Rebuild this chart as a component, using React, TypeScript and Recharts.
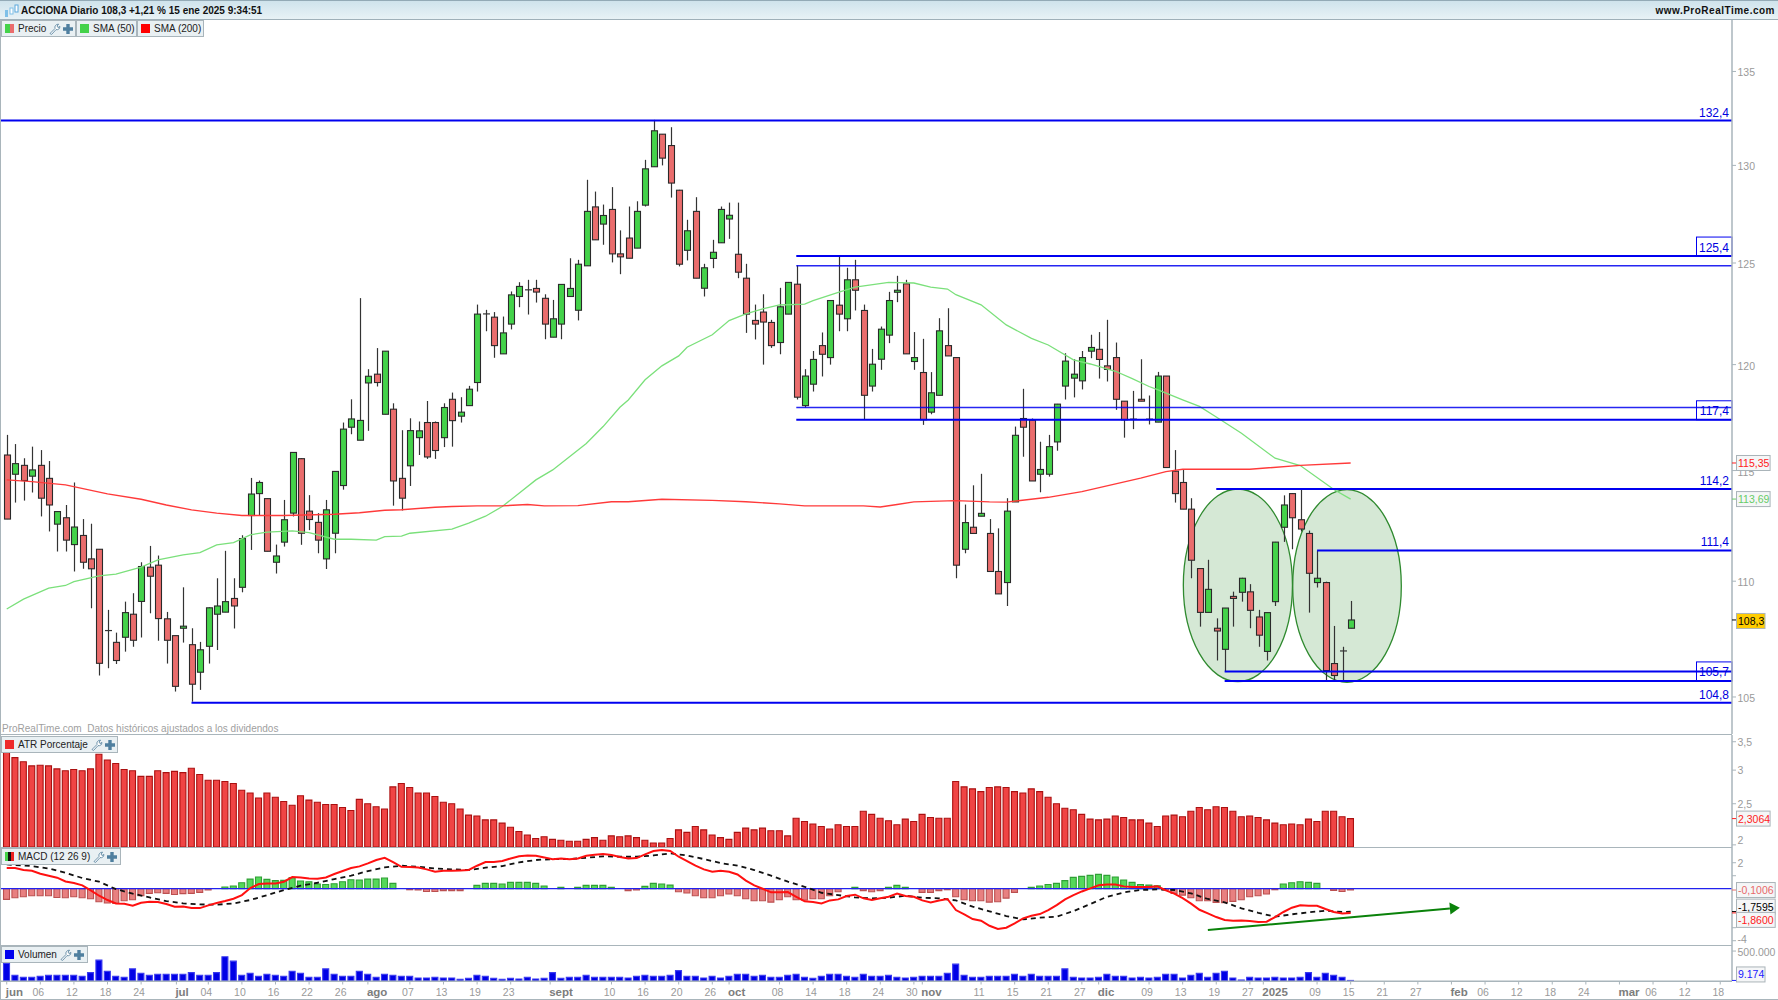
import React from "react";
import { ComposedChart, Bar, Line, XAxis, YAxis, ReferenceLine, ReferenceArea, Cell } from "recharts";

// ---------- price candles ----------
const highs = [116.66,116.23,115.57,116.11,115.95,115.44,113.14,113.42,114.45,112.78,
112.57,111.42,108.74,107.75,109.10,109.47,110.84,111.57,111.14,108.65,
107.62,109.73,107.94,107.35,108.85,110.13,111.35,110.13,112.05,114.66,
114.54,113.72,111.63,113.65,115.84,115.57,113.87,113.05,113.65,114.96,
117.24,118.34,123.25,119.78,120.8,120.65,118.15,116.88,117.44,117.29,
118.26,117.29,118.15,118.66,118.44,118.98,122.93,122.67,122.56,122.34,
123.58,124.04,124.16,124.16,123.44,123.16,123.94,125.24,125.16,129.25,
128.64,127.97,128.87,126.65,127.87,128.14,130.29,132.4,131.64,132.01,
128.73,127.19,128.35,124.96,126.17,127.87,128.07,128.07,124.96,122.93,
123.44,122.18,123.76,124.03,124.88,119.78,120.66,121.56,123.13,125.33,
124.76,125.16,122.93,120.76,121.85,123.56,124.36,124.16,121.58,121.25,
119.64,122.26,122.75,120.36,113.44,114.32,114.85,112.78,112.36,113.73,
117.05,118.84,117.43,116.34,116.66,118.12,120.55,120.26,120.66,121.45,
121.58,122.18,121.07,118.25,118.74,120.26,118.52,119.65,119.45,115.95,
115.03,113.73,110.56,110.95,108.37,108.82,109.54,110.15,109.87,108.74,
108.62,111.75,113.86,113.96,114.14,112.26,111.36,109.98,108.04,107.14,109.13];
const lows = [112.78,113.53,113.62,113.99,112.90,112.22,111.32,111.32,110.43,110.55,
108.81,105.91,106.22,106.40,106.93,107.14,107.54,108.59,107.40,106.42,
105.23,107.32,104.8,105.30,106.42,107.00,108.64,107.93,109.51,111.39,
112.93,111.33,110.34,111.54,112.90,111.62,112.28,111.24,110.54,111.24,
114.12,116.69,116.41,116.85,118.95,117.63,113.39,113.17,114.29,115.72,
115.54,115.54,116.09,116.11,117.24,118.04,118.71,121.62,120.33,120.52,
121.71,122.80,122.44,123.03,121.23,121.33,121.23,123.33,122.15,124.86,
126.17,125.92,125.03,124.44,125.24,125.75,127.87,129.93,130.0,128.33,
124.83,125.13,124.24,123.33,124.74,126.02,126.22,124.24,121.54,121.22,
120.0,120.81,120.5,122.46,118.33,117.95,118.71,119.43,120.0,121.62,
121.62,122.64,117.36,118.71,119.75,121.04,123.05,120.52,119.75,117.13,
117.63,118.53,120.42,110.13,111.24,112.13,112.91,110.43,109.44,108.91,
113.56,115.64,114.52,114.0,114.72,115.92,118.33,118.43,118.81,120.31,
119.33,119.19,117.84,116.53,116.93,118.25,117.15,117.26,115.14,113.53,
113.23,110.13,108.01,108.63,106.55,106.08,108.01,109.1,107.94,107.14,
106.55,108.91,111.75,111.42,112.22,108.62,109.72,105.68,105.68,105.68,107.94];
const opens = [115.72,114.83,115.24,114.74,115.24,114.64,112.55,112.84,111.63,112.04,
110.99,111.42,107.84,107.33,107.55,108.55,109.11,110.62,110.71,108.35,
107.62,107.94,107.23,106.05,107.16,108.55,108.64,109.24,109.73,112.94,
113.94,113.71,110.84,111.74,113.05,115.55,113.14,112.63,110.99,112.14,
114.31,117.02,116.41,119.12,119.54,117.63,117.87,114.64,115.22,116.53,
117.24,117.24,116.53,118.34,117.54,118.04,119.14,122.47,122.31,120.52,
121.97,123.33,123.66,123.73,123.24,121.33,121.97,123.33,122.65,124.86,
127.85,126.97,127.72,125.46,126.26,125.75,127.94,129.93,131.64,131.04,
128.71,125.64,127.62,123.74,125.23,126.02,127.23,125.44,124.24,122.15,
122.56,122.05,121.07,122.46,123.94,118.04,119.06,120.92,120.34,122.9,
122.23,124.16,122.64,118.97,120.26,121.43,123.54,123.96,120.15,119.62,
117.73,118.53,120.92,120.34,111.42,112.41,112.91,112.13,110.43,109.94,
113.56,117.43,117.35,114.83,114.83,116.33,118.97,119.35,119.22,120.65,
120.74,119.94,120.34,118.25,117.4,118.34,117.4,117.26,119.45,114.97,
114.45,113.23,110.56,108.63,107.94,107.03,109.33,109.51,109.53,108.43,
106.94,109.1,112.41,113.94,112.75,112.13,109.94,109.94,106.42,106.96,107.94];
const closes = [112.78,115.32,114.54,115.03,113.73,113.42,113.12,111.83,112.42,110.84,
110.55,106.43,107.81,106.55,108.62,107.42,110.65,110.22,108.36,107.42,
105.45,108.03,105.54,107.01,108.83,108.91,109.10,108.91,111.90,113.92,
114.45,111.33,111.12,112.75,115.84,112.14,112.76,111.83,113.20,114.96,
116.93,117.41,117.34,119.44,119.14,120.65,114.52,113.73,116.86,116.85,
115.63,115.93,117.95,117.33,117.73,118.82,122.46,122.44,120.92,121.54,
123.41,123.83,123.63,123.55,121.97,122.23,123.93,123.73,124.94,127.62,
126.17,127.41,125.46,125.31,125.24,127.62,129.82,131.82,130.38,129.08,
124.94,126.63,124.24,124.76,125.54,127.72,127.42,124.54,122.46,121.97,
122.07,120.92,122.82,124.03,118.44,119.45,120.25,120.5,123.13,122.46,
124.16,123.64,118.53,120.02,121.72,123.13,123.64,120.52,120.34,117.37,
118.65,121.64,120.42,110.71,112.62,112.13,113.04,110.43,109.44,113.14,
116.64,117.02,114.52,115.05,116.11,118.11,120.17,119.54,120.34,120.83,
120.25,119.77,118.34,117.37,117.35,118.25,117.35,119.45,115.14,113.94,
113.23,110.93,108.63,109.64,107.82,108.82,109.24,110.13,108.72,107.64,
108.62,111.74,113.42,112.84,112.33,110.35,110.13,106.12,105.91,106.94,108.3];

// ---------- moving averages (sampled where read) ----------
const sma50Bars = [0,2,5,7,8,11,13,16,18,21,23,25,27,29,31,34,36,39,41,44,45,47,48,53,55,57,59,61,63,65,67,69,71,73,74,76,78,80,81,84,86,88,90,92,95,96,99,101,105,108,110,112,113,116,119,122,124,127,129,132,134,136,137,140,142,144,147,151,154,158,160];
const sma50Vals = [108.78,109.21,109.69,109.81,109.98,110.24,110.31,110.62,110.95,111.17,111.27,111.62,111.72,112.07,112.19,112.25,112.17,111.87,111.87,111.83,111.99,112.01,112.14,112.33,112.6,112.91,113.35,113.96,114.57,115.03,115.64,116.26,117.05,117.96,118.31,119.27,119.94,120.42,120.84,121.45,122.14,122.47,122.72,122.91,122.95,123.13,123.53,123.8,124.03,124.0,123.8,123.7,123.42,122.92,121.93,121.27,120.95,120.23,120.03,119.68,119.33,118.95,118.8,118.31,118.0,117.5,116.74,115.57,115.23,114.13,113.69];
const sma200Bars = [0,3,7,12,16,19,22,25,28,33,39,42,45,47,51,53,56,59,62,64,68,72,74,78,84,88,92,95,102,104,106,108,113,117,119,124,128,135,138,140,148,154,160];
const sma200Vals = [114.57,114.49,114.34,113.93,113.68,113.42,113.2,113.05,112.94,112.94,113.0,113.07,113.18,113.2,113.32,113.35,113.38,113.38,113.44,113.38,113.39,113.57,113.57,113.68,113.63,113.57,113.47,113.38,113.38,113.33,113.44,113.56,113.62,113.56,113.55,113.77,114.03,114.65,114.95,115.06,115.06,115.24,115.35];

// ---------- drawn levels ----------
const levelPrices = [132.36,125.35,124.86,117.95,117.37,114.15,111.37,106.08,105.68,104.76];
const levelStartBars = [-0.8,94,94,94,94,144,156,145,145,22];
const levelLabels = ["132,4","125,4","","","117,4","114,2","111,4","","105,7","104,8"];
const levelBoxedTo = [null,"box",null,null,"box",null,null,null,"box",null];
const levelWidths = [2,2,1.4,1.4,2,2,2,2,2,2];
const ellipseBars = [[140.08,153.07],[153.1,166.03]];
const ellipsePrices = [[114.15,105.65],[114.12,105.62]];

// ---------- ATR ----------
const atr = [3.30,3.21,3.14,3.07,3.08,3.07,3.02,2.99,3.01,2.99,3.02,3.27,3.17,3.11,3.01,2.99,2.90,2.90,2.99,2.96,2.98,2.96,3.03,2.93,2.84,2.84,2.82,2.79,2.69,2.65,2.58,2.65,2.59,2.53,2.48,2.61,2.55,2.52,2.49,2.49,2.45,2.41,2.56,2.50,2.46,2.43,2.74,2.79,2.73,2.65,2.65,2.60,2.52,2.50,2.43,2.35,2.34,2.29,2.29,2.25,2.20,2.15,2.11,2.07,2.09,2.06,2.05,2.04,2.04,2.06,2.08,2.05,2.10,2.09,2.10,2.08,2.05,2.02,2.02,2.07,2.17,2.14,2.21,2.17,2.11,2.08,2.06,2.14,2.19,2.17,2.19,2.16,2.16,2.10,2.31,2.27,2.24,2.21,2.18,2.23,2.21,2.21,2.40,2.36,2.31,2.28,2.23,2.30,2.27,2.36,2.32,2.31,2.31,2.82,2.74,2.71,2.67,2.73,2.74,2.73,2.67,2.65,2.71,2.67,2.59,2.50,2.44,2.42,2.36,2.30,2.29,2.30,2.34,2.32,2.29,2.29,2.25,2.21,2.34,2.35,2.33,2.40,2.45,2.42,2.46,2.45,2.40,2.33,2.34,2.32,2.29,2.25,2.23,2.24,2.23,2.30,2.27,2.40,2.40,2.33,2.3064];

// ---------- MACD ----------
const macdHist = [-.82,-.69,-.62,-.54,-.54,-.54,-.67,-.69,-.62,-.69,-.77,-1.0,-1.10,-1.13,-.92,-.85,-.54,-.36,-.31,-.36,-.44,-.38,-.36,-.28,-.10,0,.13,.21,.46,.74,.90,.72,.62,.64,.85,.59,.54,.36,.33,.38,.54,.69,.67,.74,.74,.82,.41,0,-.08,-.10,-.21,-.21,-.15,-.15,-.15,0,.26,.41,.41,.36,.49,.49,.49,.41,.21,0,.10,0,.10,.26,.26,.26,.10,0,-.15,-.10,.18,.41,.36,.28,-.23,-.33,-.54,-.69,-.69,-.54,-.41,-.54,-.77,-.92,-.92,-1.03,-.85,-.62,-.85,-.87,-.77,-.77,-.54,-.23,0,.10,-.15,-.23,-.15,.10,.26,.10,0,-.28,-.28,-.15,-.08,-.62,-.85,-.92,-.92,-1.03,-1.0,-.72,-.28,0,.10,.21,.33,.41,.62,.87,.95,1.03,1.10,1.03,.90,.67,.49,.33,.28,.23,-.10,-.36,-.49,-.69,-.92,-.92,-1.05,-1.08,-.97,-.85,-.62,-.54,-.41,-.08,.36,.46,.54,.49,.41,0,-.13,-.21,-.1006];
const macdLine = [1.59,1.59,1.44,1.38,1.15,1.0,.85,.56,.44,.26,-.13,-.54,-.87,-1.13,-1.15,-1.31,-1.08,-1.0,-1.03,-1.18,-1.38,-1.36,-1.49,-1.49,-1.28,-1.10,-.95,-.77,-.49,.05,.36,.41,.41,.54,.90,.87,.79,.77,.87,1.13,1.36,1.59,1.72,1.95,2.21,2.38,2.05,1.69,1.67,1.64,1.49,1.31,1.38,1.38,1.41,1.44,1.77,2.05,2.05,2.13,2.33,2.49,2.56,2.54,2.41,2.26,2.33,2.26,2.33,2.54,2.62,2.67,2.59,2.44,2.33,2.36,2.64,2.90,2.97,2.90,2.46,2.13,1.77,1.49,1.31,1.38,1.31,1.10,.62,.26,0,-.28,-.28,-.26,-.62,-.97,-1.03,-1.13,-.90,-.82,-.56,-.46,-.74,-.87,-.74,-.62,-.38,-.56,-.62,-.90,-1.05,-.90,-.79,-1.64,-1.97,-2.33,-2.46,-2.85,-3.10,-3.0,-2.67,-2.28,-2.08,-1.95,-1.64,-1.26,-.82,-.49,-.21,.03,.26,.33,.33,.18,.13,.13,.13,.18,-.13,-.38,-.72,-1.15,-1.62,-1.90,-2.18,-2.41,-2.46,-2.44,-2.49,-2.56,-2.54,-2.18,-1.79,-1.46,-1.28,-1.31,-1.31,-1.56,-1.79,-1.90,-1.86];
const signalBars = [0,3,5,7,9,11,13,15,17,19,21,23,25,27,29,31,33,35,37,39,41,43,45,47,49,51,53,55,57,59,61,63,65,67,69,71,73,75,77,79,81,83,85,87,89,91,93,95,97,99,101,103,105,107,109,111,113,115,117,119,121,123,125,127,129,131,133,135,137,139,141,143,145,147,149,151,153,155,157,159,160];
const signalVals = [1.87,1.74,1.56,1.23,.82,.54,-.03,-.38,-.67,-.95,-1.13,-1.21,-1.23,-1.13,-.87,-.49,-.10,.23,.46,.74,1.0,1.36,1.64,1.77,1.69,1.56,1.49,1.44,1.62,1.74,2.03,2.21,2.28,2.28,2.38,2.49,2.46,2.46,2.56,2.72,2.56,2.28,1.97,1.77,1.44,1.0,.54,.15,-.31,-.49,-.67,-.74,-.69,-.54,-.69,-.74,-.90,-1.38,-1.74,-2.10,-2.36,-2.23,-2.15,-1.72,-1.18,-.62,-.28,-.10,-.05,-.10,-.36,-.79,-1.05,-1.51,-1.85,-2.15,-1.97,-1.82,-1.69,-1.79,-1.7595];
const arrowBars = [143,173];
const arrowVals = [-3.18,-1.46];

// ---------- volume (thousands except the last bar) ----------
const volume = [292,95,62,62,79,95,95,95,95,79,140,348,163,79,62,202,129,95,112,112,112,112,140,95,95,140,404,331,95,129,79,112,95,79,163,129,62,62,202,112,79,79,163,112,62,112,95,79,79,50,50,62,50,50,28,45,95,79,45,28,45,34,62,34,45,140,45,62,62,95,62,62,62,62,50,79,95,79,79,95,174,79,79,50,79,50,79,112,112,79,95,62,62,95,112,62,45,79,112,112,79,62,112,79,79,95,62,50,62,79,79,79,129,281,95,62,62,79,79,79,112,79,112,79,79,79,202,62,50,50,62,112,79,79,50,62,50,62,112,112,50,95,129,62,129,163,50,17,62,50,50,62,50,50,62,140,62,129,95,62,9.174];

// ---------- tick labels ----------
const xTickBars = [0,4,8,12,16,20.2,24,28,32,36,40,43,48,52,56,60,64.7,72,76,80,84,86,92,96,100,104,108,109,116,120,124,128,130,136,140,144,148,149.6,156,160,164,168,172,176,180,184,188,192,196,200,204];
const xTickNames = ["jun","06","12","18","24","jul","04","10","16","22","26","ago","07","13","19","23","sept","10","16","20","26","oct","08","14","18","24","30","nov","11","15","21","27","dic","09","13","19","27","2025","09","15","21","27","feb","06","12","18","24","mar","06","12","18"];
const boldTicks = ["jun","jul","ago","sept","oct","nov","dic","2025","feb","mar"];
const priceTicks = [135,130,125,120,115,110,105];
const priceTagVals = [115.35,113.69,108.3];
const priceTagTexts = ["115,35","113,69","108,3"];
const atrTicks = [3.5,3,2.5,2];
const macdTicks = [2,1,-3,-4];
const macdTagVals = [-0.1006,-1.7595,-1.86];
const macdTagTexts = ["-0,1006","-1,7595","-1,8600"];

const WIDTH = 1778;
const PLOT_W = 1732;
const X_DOMAIN: [number, number] = [-0.8, 205.4];
const FONT = "'Liberation Sans', Arial, sans-serif";
const AXIS_GRAY = "#a9b5bb";
const TICK_TEXT = "#9a9a9a";

const priceRows = highs.map((h, i) => ({
  i, range: [lows[i], h], open: opens[i], close: closes[i], high: h, low: lows[i],
  sma50: sma50Bars.includes(i) ? sma50Vals[sma50Bars.indexOf(i)] : null,
  sma200: sma200Bars.includes(i) ? sma200Vals[sma200Bars.indexOf(i)] : null,
}));
const atrRows = atr.map((v, i) => ({ i, atr: v }));
const macdRows = macdHist.map((h, i) => ({
  i, hist: h, macd: macdLine[i],
  signal: signalBars.includes(i) ? signalVals[signalBars.indexOf(i)] : null,
}));
const volRows = volume.map((v, i) => ({ i, vol: i === 160 ? 9174 : v * 1000 }));

function Candle(props: any) {
  const { x, y, width, height, payload } = props;
  const top = Math.min(y, y + height);
  const h = Math.abs(height);
  const span = Math.log(payload.high / payload.low) || 1;
  const py = (v: number) => top + (h * Math.log(payload.high / v)) / span;
  const cx = Math.round(x + width / 2);
  const t = py(Math.max(payload.open, payload.close));
  const b = py(Math.min(payload.open, payload.close));
  const up = payload.close >= payload.open;
  const doji = Math.abs(t - b) < 1.2;
  return (
    <g>
      <line x1={cx + 0.5} x2={cx + 0.5} y1={top} y2={top + h} stroke="#333" strokeWidth={1.2} />
      {doji ? (
        <line x1={cx - 3} x2={cx + 4} y1={t} y2={t} stroke="#333" strokeWidth={1.2} />
      ) : (
        <rect x={cx - 2.5} y={t} width={6} height={b - t} fill={up ? "#44d24a" : "#ea6d6d"} stroke="#2a2a2a" strokeWidth={1.1} />
      )}
    </g>
  );
}

function LevelShape(props: any) {
  const { x1, y1, label, boxed, lw } = props;
  return (
    <g>
      <line x1={x1} x2={PLOT_W} y1={y1} y2={y1} stroke="#0000f0" strokeWidth={lw} strokeOpacity={lw < 2 ? 0.85 : 1} />
      {boxed ? <rect x={1696.5} y={y1 - 19} width={35.5} height={19} fill="none" stroke="#0000f0" strokeWidth={1} /> : null}
      {label ? (
        <text x={1729} y={boxed ? y1 - 4.5 : y1 - 4} textAnchor="end" fontSize={12} fontFamily={FONT} fill="#0000e0">{label}</text>
      ) : null}
    </g>
  );
}

function EllipseShape(props: any) {
  const { x, y, width, height } = props;
  return (
    <ellipse cx={x + width / 2} cy={y + height / 2} rx={width / 2} ry={Math.abs(height) / 2}
      fill="#2e8b2e" fillOpacity={0.2} stroke="#2f8a2f" strokeWidth={1.3} />
  );
}

function ArrowShape(props: any) {
  const { x1, x2, y1, y2 } = props;
  const a = Math.atan2(y2 - y1, x2 - x1);
  const L = 10, W = 6;
  const bx = x2 - L * Math.cos(a), by = y2 - L * Math.sin(a);
  const nx = -Math.sin(a), ny = Math.cos(a);
  return (
    <g>
      <line x1={x1} y1={y1} x2={bx} y2={by} stroke="#0a820a" strokeWidth={2} />
      <polygon points={`${x2},${y2} ${bx + nx * W},${by + ny * W} ${bx - nx * W},${by - ny * W}`} fill="#0a820a" />
    </g>
  );
}

function makeTick(
  tagVals: number[], tagTexts: string[], tagColors: string[], tagBg: string[], tagDy: number[],
  labelFn: (v: number) => string, dyFn: (v: number) => number,
) {
  return function Tick(props: any) {
    const { y, payload } = props;
    const v = payload.value;
    const k = tagVals.indexOf(v);
    if (k >= 0) {
      const w = tagTexts[k].length * 5.1 + 3;
      const cy = y + tagDy[k];
      return (
        <g>
          <line x1={PLOT_W} x2={PLOT_W + 5} y1={y} y2={y} stroke={tagColors[k]} />
          <rect x={PLOT_W + 4.5} y={cy - 7.5} width={w} height={15} fill={tagBg[k]} stroke="#aab4b9" />
          <text x={PLOT_W + 6} y={cy + 4} fontSize={10.5} fontFamily={FONT} fill={tagColors[k]}>{tagTexts[k]}</text>
        </g>
      );
    }
    const s = labelFn(v);
    return (
      <g>
        <line x1={PLOT_W} x2={PLOT_W + 4} y1={y} y2={y} stroke={AXIS_GRAY} />
        {s ? <text x={PLOT_W + 5.5} y={y + 4 + dyFn(v)} fontSize={10.5} fontFamily={FONT} fill={TICK_TEXT}>{s}</text> : null}
      </g>
    );
  };
}

const commaLabel = (v: number) => String(v).replace(".", ",");
const PriceTick = makeTick(priceTagVals, priceTagTexts, ["#ff2020", "#66cc66", "#000"], ["#f5f6f7", "#f5f6f7", "#ffcc00"], [0, 0, 1], commaLabel, () => 1);
const AtrTick = makeTick([2.3064], ["2,3064"], ["#ff2020"], ["#f5f6f7"], [0], commaLabel, (v) => (v === 2 ? -5 : 0));
const MacdTick = makeTick(macdTagVals, macdTagTexts, ["#e86a6a", "#000", "#ff2020"], ["#f5f6f7", "#f5f6f7", "#f5f6f7"], [0, -5, 7],
  (v) => (v === 2 || v === -4 ? commaLabel(v) : ""), (v) => (v === -4 ? -2 : 0));
const VolTick = makeTick([9174], ["9.174"], ["#2020ff"], ["#f5f6f7"], [-6], () => "500.000", () => 1);

function XTick(props: any) {
  const { x, payload } = props;
  const v = payload.value;
  const name = xTickNames[xTickBars.indexOf(v)];
  const bold = boldTicks.includes(name);
  return (
    <g>
      <line x1={x} x2={x} y1={36.5} y2={39.5} stroke={AXIS_GRAY} />
      <text x={bold ? x - 1 : x - 2} y={51} textAnchor={bold ? "start" : "middle"} fontSize={bold ? 11.5 : 10.5}
        fontWeight={bold ? 700 : 400} fontFamily={FONT} fill={bold ? "#7d7d7d" : TICK_TEXT}>{name}</text>
    </g>
  );
}

function Wrench() {
  return (
    <svg width="12" height="12" viewBox="0 0 12 12" style={{ marginLeft: 3, flex: "none" }}>
      <path d="M1 10.5 L6 5.5 C5.3 3.2 7 1 9.6 1.2 L8 3 L9 4.6 L10.9 3.4 C11 5.8 9 7.2 7 6.6 L2.6 11.4 Z" fill="#fff" stroke="#5f88a3" strokeWidth="0.9" />
    </svg>
  );
}
function Plus() {
  return (
    <svg width="10" height="10" viewBox="0 0 10 10" style={{ marginLeft: 2, flex: "none" }}>
      <path d="M3.3 0 H6.7 V3.3 H10 V6.7 H6.7 V10 H3.3 V6.7 H0 V3.3 H3.3 Z" fill="#4f7f9f" />
    </svg>
  );
}

function LegendBox(props: { x: number; y: number; w: number; h?: number; swatch: React.ReactNode; text: string; tools?: boolean }) {
  const { x, y, w, h = 17, swatch, text, tools } = props;
  return (
    <div style={{ position: "absolute", left: x, top: y, width: w, height: h, boxSizing: "border-box", background: "#e9f0f3", border: `1px solid ${AXIS_GRAY}`, display: "flex", alignItems: "center", paddingLeft: 3, fontFamily: FONT, fontSize: 10, color: "#222", whiteSpace: "nowrap", zIndex: 5 }}>
      {swatch}
      <span style={{ marginLeft: 4 }}>{text}</span>
      {tools ? <Wrench /> : null}
      {tools ? <Plus /> : null}
    </div>
  );
}
const sq = (bg: string) => <div style={{ width: 9, height: 9, background: bg, flex: "none" }} />;
const sqSplit = (a: string, b: string) => <div style={{ width: 9, height: 9, background: `linear-gradient(90deg, ${a} 50%, ${b} 50%)`, flex: "none" }} />;
const sqMacd = <div style={{ width: 9, height: 9, background: "linear-gradient(90deg,#44d24a 33%,#111 33%,#111 66%,#ee2020 66%)", flex: "none" }} />;

const hLine = (y: number, color = AXIS_GRAY, h = 1) => (
  <div style={{ position: "absolute", left: 0, top: y, width: PLOT_W, height: h, background: color, zIndex: 4 }} />
);

const chartBase = { margin: { top: 0, right: 0, bottom: 0, left: 0 } };

export default function App() {
  return (
    <div style={{ position: "absolute", left: 0, top: 0, width: WIDTH, height: 1000, background: "#fff", overflow: "hidden" }}>
      {/* Title bar */}
      <div style={{ position: "absolute", left: 0, top: 0, width: WIDTH, height: 20, boxSizing: "border-box", background: "linear-gradient(#cfe3ec,#e8f2f6)", borderTop: "1px solid #93aab6", borderBottom: "1.5px solid #9fb0b9", zIndex: 5 }}>
        <svg width="16" height="14" style={{ position: "absolute", left: 4, top: 3 }}>
          <rect x="1" y="6" width="3" height="7" fill="#7fc0e8" /><rect x="6" y="4" width="3" height="6" fill="#fff" stroke="#7fc0e8" /><rect x="11" y="1" width="3" height="7" fill="#fff" stroke="#5aa8dc" />
        </svg>
        <span style={{ position: "absolute", left: 21, top: 4, fontFamily: FONT, fontSize: 10, fontWeight: 700, color: "#111", whiteSpace: "nowrap" }}>ACCIONA Diario 108,3 +1,21 % 15 ene 2025 9:34:51</span>
        <span style={{ position: "absolute", right: 3, top: 4, fontFamily: FONT, fontSize: 10, fontWeight: 700, color: "#111", whiteSpace: "nowrap", letterSpacing: 0.5 }}>www.ProRealTime.com</span>
      </div>

      <LegendBox x={1} y={20} w={75} swatch={sqSplit("#44d24a", "#ea6d6d")} text="Precio" tools />
      <LegendBox x={76} y={20} w={61} swatch={sq("#44d24a")} text="SMA (50)" />
      <LegendBox x={137} y={20} w={67} swatch={sq("#ff0000")} text="SMA (200)" />
      <LegendBox x={1} y={736} w={117} swatch={sq("#ee2a2a")} text="ATR Porcentaje" tools />
      <LegendBox x={1} y={848} w={120} swatch={sqMacd} text="MACD (12 26 9)" tools />
      <LegendBox x={1} y={946} w={87} swatch={sq("#0000ee")} text="Volumen" tools />

      <div style={{ position: "absolute", left: 2, top: 723, fontFamily: FONT, fontSize: 10, color: "#a0a0a0", whiteSpace: "nowrap", zIndex: 5 }}>ProRealTime.com&nbsp; Datos históricos ajustados a los dividendos</div>

      {hLine(734)}
      {hLine(847)}
      {hLine(944.5, AXIS_GRAY, 1.5)}
      {hLine(980.5)}
      <div style={{ position: "absolute", left: 0, top: 999, width: WIDTH, height: 1, background: AXIS_GRAY, zIndex: 4 }} />
      <div style={{ position: "absolute", left: 0, top: 0, width: 1, height: 1000, background: AXIS_GRAY, zIndex: 4 }} />

      {/* Price */}
      <div style={{ position: "absolute", left: 0, top: 20 }}>
        <ComposedChart width={WIDTH} height={714} data={priceRows} {...chartBase}>
          <XAxis dataKey="i" type="number" domain={X_DOMAIN} allowDataOverflow hide />
          <YAxis orientation="right" width={46} scale="log" type="number" domain={[103.45, 137.82]} allowDataOverflow
            ticks={[...priceTicks, ...priceTagVals]} interval={0} tickLine={false} axisLine={{ stroke: AXIS_GRAY, strokeWidth: 1.5 }} tick={<PriceTick />} />
          <Bar dataKey="range" barSize={7} isAnimationActive={false} shape={<Candle />} />
          <Line dataKey="sma50" connectNulls dot={false} stroke="#7be07b" strokeWidth={1.3} isAnimationActive={false} />
          <Line dataKey="sma200" connectNulls dot={false} stroke="#ff3a3a" strokeWidth={1.4} isAnimationActive={false} />
          {ellipseBars.map((b, k) => (
            <ReferenceArea key={k} x1={b[0]} x2={b[1]} y1={ellipsePrices[k][0]} y2={ellipsePrices[k][1]} ifOverflow="visible" shape={<EllipseShape />} />
          ))}
          {levelPrices.map((p, k) => (
            <ReferenceLine key={k} segment={[{ x: levelStartBars[k], y: p }, { x: X_DOMAIN[1], y: p }]} ifOverflow="visible"
              shape={<LevelShape label={levelLabels[k]} boxed={levelBoxedTo[k]} lw={levelWidths[k]} />} />
          ))}
        </ComposedChart>
      </div>

      {/* ATR */}
      <div style={{ position: "absolute", left: 0, top: 735 }}>
        <ComposedChart width={WIDTH} height={112} data={atrRows} {...chartBase}>
          <XAxis dataKey="i" type="number" domain={X_DOMAIN} allowDataOverflow hide />
          <YAxis orientation="right" width={46} scale="log" type="number" domain={[1.977, 3.63]} allowDataOverflow
            ticks={[...atrTicks, 2.3064]} interval={0} tickLine={false} axisLine={{ stroke: AXIS_GRAY, strokeWidth: 1.5 }} tick={<AtrTick />} />
          <Bar dataKey="atr" barSize={6} fill="#f04444" stroke="#aa1010" strokeWidth={1.1} isAnimationActive={false} />
        </ComposedChart>
      </div>

      {/* MACD */}
      <div style={{ position: "absolute", left: 0, top: 847 }}>
        <ComposedChart width={WIDTH} height={98} data={macdRows} {...chartBase}>
          <XAxis dataKey="i" type="number" domain={X_DOMAIN} allowDataOverflow hide />
          <YAxis orientation="right" width={46} type="number" domain={[-4.33, 3.21]} allowDataOverflow
            ticks={[...macdTicks, ...macdTagVals]} interval={0} tickLine={false} axisLine={{ stroke: AXIS_GRAY, strokeWidth: 1.5 }} tick={<MacdTick />} />
          <Bar dataKey="hist" barSize={6} strokeWidth={1.1} isAnimationActive={false}>
            {macdRows.map((r) => (
              <Cell key={r.i} fill={r.hist >= 0 ? "#55d85a" : "#e88080"} stroke={r.hist >= 0 ? "#2f9f35" : "#bb5050"} />
            ))}
          </Bar>
          <ReferenceLine y={0} stroke="#2222ee" strokeWidth={1.2} />
          <Line dataKey="signal" connectNulls dot={false} stroke="#111" strokeWidth={1.8} strokeDasharray="5 4" isAnimationActive={false} />
          <Line dataKey="macd" dot={false} stroke="#ff1010" strokeWidth={2} isAnimationActive={false} />
          <ReferenceLine segment={[{ x: arrowBars[0], y: arrowVals[0] }, { x: arrowBars[1], y: arrowVals[1] }]} ifOverflow="visible" shape={<ArrowShape />} />
        </ComposedChart>
      </div>

      {/* Volume + time axis */}
      <div style={{ position: "absolute", left: 0, top: 945 }}>
        <ComposedChart width={WIDTH} height={55} data={volRows} {...chartBase}>
          <XAxis dataKey="i" type="number" domain={X_DOMAIN} allowDataOverflow height={19} ticks={xTickBars} interval={0}
            tickLine={false} axisLine={{ stroke: AXIS_GRAY }} tick={<XTick />} />
          <YAxis orientation="right" width={46} type="number" domain={[0, 601000]} allowDataOverflow
            ticks={[500000, 9174]} interval={0} tickLine={false} axisLine={{ stroke: AXIS_GRAY, strokeWidth: 1.5 }} tick={<VolTick />} />
          <Bar dataKey="vol" barSize={6} fill="#0000e6" stroke="#3a3af0" strokeWidth={1.1} isAnimationActive={false} />
        </ComposedChart>
      </div>
    </div>
  );
}
